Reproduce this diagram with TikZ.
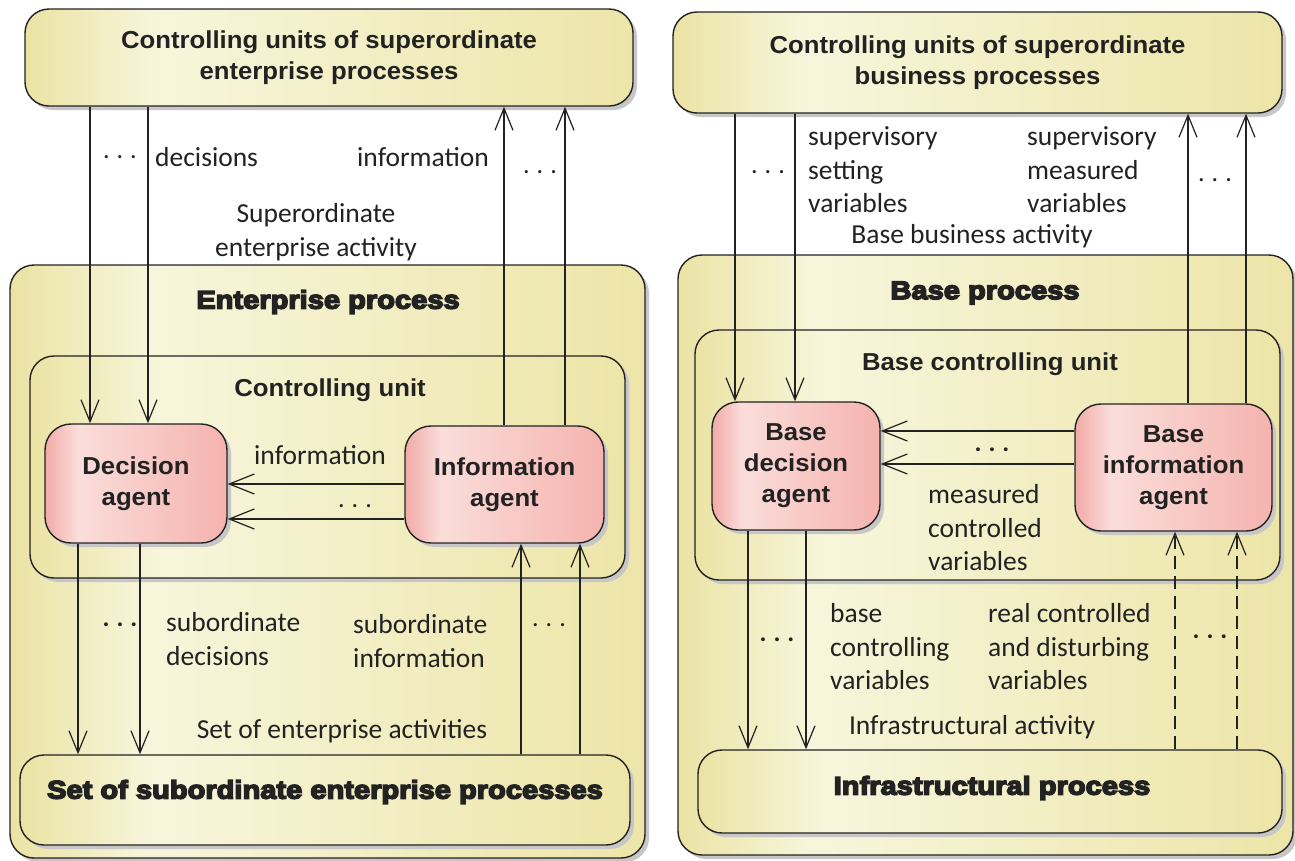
\documentclass[tikz,border=0pt]{standalone}
\usepackage{fontspec}
\setmainfont{Carlito}
\newfontfamily\tf{Liberation Sans}[FakeStretch=1.05]
\newfontfamily\hf{Liberation Sans}[FakeBold=6,FakeStretch=1.14]
\usetikzlibrary{arrows.meta,shadows}
\definecolor{yL}{HTML}{EBE3A4}
\definecolor{yM}{HTML}{F7F6DC}
\definecolor{yR}{HTML}{EDE5A8}
\definecolor{pL}{HTML}{F2AAA7}
\definecolor{pM}{HTML}{FADDDA}
\definecolor{pR}{HTML}{F5B3AE}
\definecolor{ink}{HTML}{222222}
\pgfdeclarehorizontalshading{yshade}{100bp}{color(0bp)=(yL); color(25bp)=(yL); color(36bp)=(yM); color(75bp)=(yR); color(100bp)=(yR)}
\pgfdeclarehorizontalshading{pshade}{100bp}{color(0bp)=(pL); color(25bp)=(pL); color(34bp)=(pM); color(75bp)=(pR); color(100bp)=(pR)}
\tikzset{
  box/.style={draw=ink, line width=1.4pt, rounded corners=24pt, shade, shading=yshade,
    drop shadow={shadow xshift=4pt, shadow yshift=-4pt, fill=black!22, opacity=1},
    inner sep=0pt, text=ink, align=center},
  agent/.style={box, shading=pshade, rounded corners=26pt},
  arr/.style={draw=ink, line width=1.2pt, -{Straight Barb[length=22pt,width=18pt,line width=1.2pt]}},
  harr/.style={draw=ink, line width=1.2pt, -{Straight Barb[length=25pt,width=20pt,line width=1.2pt]}},
  darr/.style={arr, dash pattern=on 13pt off 7pt},
  lab/.style={font=\fontsize{27.5}{33.5}\selectfont, text=ink, inner sep=0pt, align=left},
  clab/.style={lab, align=center},
  dots/.style={font=\fontsize{26}{30}\selectfont, text=ink, inner sep=0pt},
  bdots/.style={font=\bfseries\fontsize{26}{30}\selectfont, text=ink, inner sep=0pt},
  ttl/.style={font=\tf\bfseries\fontsize{24.5}{31}\selectfont},
  hvy/.style={font=\hf\bfseries\fontsize{25.5}{30}\selectfont, text=ink, inner sep=0pt},
}
\newcommand{\ddd}{.\hspace{7pt}.\hspace{7pt}.}
\begin{document}
\begin{tikzpicture}[x=1pt,y=-1pt]
\useasboundingbox (0,0) rectangle (1295,860);
% ---------- left panel ----------
\node[box, minimum width=635pt, minimum height=593pt] (entL) at (327.5,561.5) {};
\node[box, minimum width=595pt, minimum height=222pt] (cuL) at (327.5,467) {};
\node[box, minimum width=610pt, minimum height=90pt] (setL) at (325,800) {};
\node[agent, ttl, minimum width=182pt, minimum height=119pt] (decL) at (136,483.5) {Decision\\agent};
\node[agent, ttl, minimum width=199pt, minimum height=117pt] (infL) at (504.5,484.5) {Information\\agent};
\node[box, ttl, minimum width=608pt, minimum height=97pt] (topL) at (329,57.5) {Controlling units of superordinate\\enterprise processes};
\node[hvy] (entLt) at (328,302) {Enterprise process};
\node[ttl, text=ink, inner sep=0pt] (cuLt) at (330,390) {Controlling unit};
\node[hvy] (setLt) at (325,792) {Set of subordinate enterprise processes};
% connectors
\coordinate (la1) at (90,0); \coordinate (la2) at (148,0);
\coordinate (la3) at (504,0); \coordinate (la4) at (565,0);
\coordinate (lb1) at (78,0); \coordinate (lb2) at (140,0);
\coordinate (lb3) at (521,0); \coordinate (lb4) at (580,0);
\coordinate (lh1) at (0,484); \coordinate (lh2) at (0,519);
\draw[arr] (topL.south -| la1) -- (decL.north -| la1);
\draw[arr] (topL.south -| la2) -- (decL.north -| la2);
\draw[arr] (infL.north -| la3) -- (topL.south -| la3);
\draw[arr] (infL.north -| la4) -- (topL.south -| la4);
\draw[harr] (infL.west |- lh1) -- (decL.east |- lh1);
\draw[harr] (infL.west |- lh2) -- (decL.east |- lh2);
\draw[arr] (decL.south -| lb1) -- (setL.north -| lb1);
\draw[arr] (decL.south -| lb2) -- (setL.north -| lb2);
\draw[arr] (setL.north -| lb3) -- (infL.south -| lb3);
\draw[arr] (setL.north -| lb4) -- (infL.south -| lb4);
% labels
\node[dots] (d1) at (120,157) {\ddd};
\node[lab, anchor=west] (t1) at (155,157) {decisions};
\node[clab] (t2) at (423,157) {information};
\node[dots] (d2) at (540,172) {\ddd};
\node[clab] (t3) at (316,232) {Superordinate\\enterprise activity};
\node[clab] (t4) at (320,455) {information};
\node[dots] (d3) at (355,506) {\ddd};
\node[bdots] (d4) at (120,625) {\ddd};
\node[lab, anchor=west] (t5) at (166,639) {subordinate\\decisions};
\node[lab, anchor=west] (t6) at (353,641) {subordinate\\information};
\node[dots] (d5) at (549,625) {\ddd};
\node[clab] (t7) at (342,731) {Set of enterprise activities};
% ---------- right panel ----------
\node[box, minimum width=615pt, minimum height=600pt] (baseR) at (985.5,555) {};
\node[box, minimum width=585pt, minimum height=250pt] (bcuR) at (987.5,455) {};
\node[box, minimum width=584pt, minimum height=83pt] (infraR) at (990,791.5) {};
\node[agent, ttl, minimum width=168pt, minimum height=128pt] (bdaR) at (796,466) {Base\\decision\\agent};
\node[agent, ttl, minimum width=197pt, minimum height=127pt] (biaR) at (1173.5,467.5) {Base\\information\\agent};
\node[box, ttl, minimum width=609pt, minimum height=101pt] (topR) at (977.5,62.5) {Controlling units of superordinate\\business processes};
\node[hvy] (baseRt) at (985,293) {Base process};
\node[ttl, text=ink, inner sep=0pt] (bcuRt) at (990,364) {Base controlling unit};
\node[hvy] (infraRt) at (992,788) {Infrastructural process};
% connectors
\coordinate (ra1) at (735,0); \coordinate (ra2) at (795,0);
\coordinate (ra3) at (1188,0); \coordinate (ra4) at (1246,0);
\coordinate (rb1) at (748,0); \coordinate (rb2) at (806,0);
\coordinate (rb3) at (1175,0); \coordinate (rb4) at (1237,0);
\coordinate (rh1) at (0,431); \coordinate (rh2) at (0,464);
\draw[arr] (topR.south -| ra1) -- (bdaR.north -| ra1);
\draw[arr] (topR.south -| ra2) -- (bdaR.north -| ra2);
\draw[arr] (biaR.north -| ra3) -- (topR.south -| ra3);
\draw[arr] (biaR.north -| ra4) -- (topR.south -| ra4);
\draw[harr] (biaR.west |- rh1) -- (bdaR.east |- rh1);
\draw[harr] (biaR.west |- rh2) -- (bdaR.east |- rh2);
\draw[arr] (bdaR.south -| rb1) -- (infraR.north -| rb1);
\draw[arr] (bdaR.south -| rb2) -- (infraR.north -| rb2);
\draw[darr] (infraR.north -| rb3) -- (biaR.south -| rb3);
\draw[darr] (infraR.north -| rb4) -- (biaR.south -| rb4);
% labels
\node[dots] (e1) at (768,172) {\ddd};
\node[lab, anchor=west] (s1) at (808,170) {supervisory\\setting\\variables};
\node[lab, anchor=west] (s2) at (1027,170) {supervisory\\measured\\variables};
\node[dots] (e2) at (1215,180) {\ddd};
\node[clab] (s3) at (972,236) {Base business activity};
\node[bdots] (e3) at (992,450) {\ddd};
\node[lab, anchor=west] (s4) at (928,528) {measured\\controlled\\variables};
\node[bdots] (e4) at (777,640) {\ddd};
\node[lab, anchor=west] (s5) at (830,647) {base\\controlling\\variables};
\node[lab, anchor=west] (s6) at (988,647) {real controlled\\and disturbing\\variables};
\node[bdots] (e5) at (1210,637) {\ddd};
\node[clab] (s7) at (972,727) {Infrastructural activity};
\end{tikzpicture}
\end{document}
